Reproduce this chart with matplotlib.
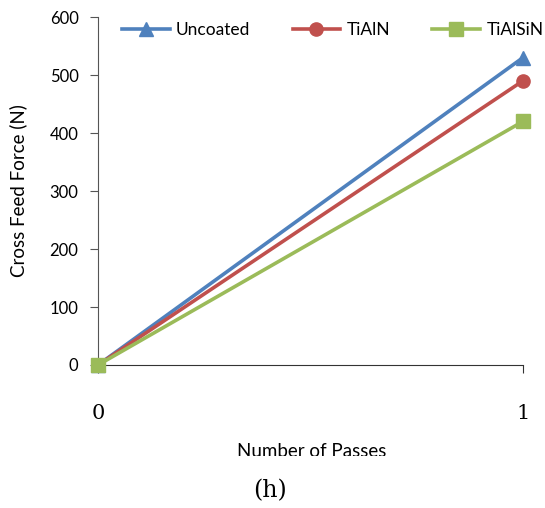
import matplotlib.pyplot as plt
from matplotlib.transforms import Bbox

passes = [0, 1]
uncoated = [0, 530]
tialn = [0, 490]
tialsin = [0, 420]
y_ticks = [0, 100, 200, 300, 400, 500, 600]

fig = plt.figure(figsize=(5.45, 5.08), dpi=100)
ax = fig.add_axes([0.1798, 0.2815, 0.7798, 0.685])

ax.plot(passes, uncoated, color="#4F81BD", lw=2.6, marker="^", ms=10,
        label="Uncoated", clip_on=False, zorder=3)
ax.plot(passes, tialn, color="#C0504D", lw=2.6, marker="o", ms=9.5,
        label="TiAlN", clip_on=False, zorder=4)
ax.plot(passes, tialsin, color="#9BBB59", lw=2.6, marker="s", ms=9.5,
        label="TiAlSiN", clip_on=False, zorder=5)

ax.set_xlim(0, 1)
ax.set_ylim(0, 600)
ax.set_yticks(y_ticks)
ax.set_xticks(passes)
for s in ("top", "right"):
    ax.spines[s].set_visible(False)
ax.spines["left"].set_color("#555555")
ax.spines["bottom"].set_color("#333333")

ax.tick_params(axis="y", direction="out", length=6, color="#555555",
               pad=8, labelsize=12)
ax.tick_params(axis="x", direction="out", length=6, color="#333333",
               pad=22, labelsize=15)
for lbl in ax.get_yticklabels():
    lbl.set_family("Lato")
for lbl in ax.get_xticklabels():
    lbl.set_family("DejaVu Serif")

ax.set_ylabel("Cross Feed Force (N)", family="Lato", fontsize=13.5)
ax.yaxis.set_label_coords(-0.167, 0.5)

ax.legend(loc="center left", bbox_to_anchor=(0.056, 0.9626), ncol=3,
          frameon=False, prop={"family": "Lato", "size": 12.5},
          handlelength=2.75, columnspacing=2.45, handletextpad=0.35,
          borderaxespad=0.0, borderpad=0.0)

# x-axis title, cut off along its lower edge
xt = fig.text(0.571, 0.1004, "Number of Passes", family="Lato", fontsize=13.5,
              ha="center", va="baseline")
xt.set_clip_box(Bbox.from_extents(0, 0.1033, 1, 1).transformed(fig.transFigure))
xt.set_clip_on(True)

fig.text(0.496, 0.035, "(h)", family="DejaVu Serif", fontsize=17,
         ha="center", va="center")

fig.savefig("out.png", dpi=100)
